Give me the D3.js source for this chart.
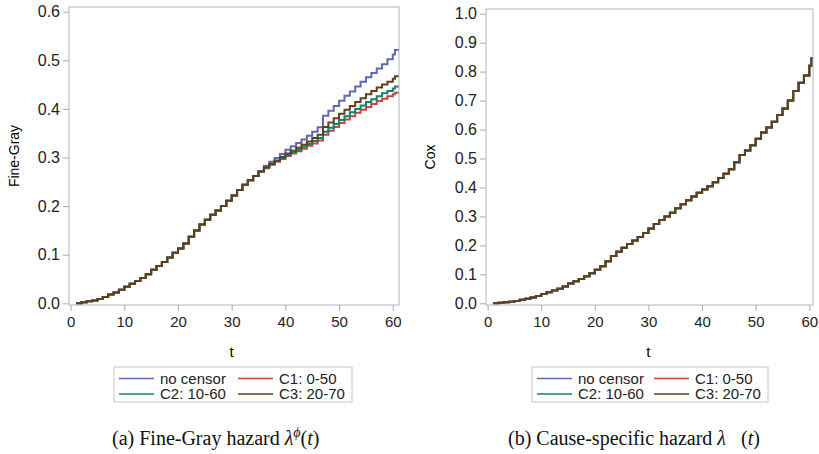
<!DOCTYPE html>
<html>
<head>
<meta charset="utf-8">
<script src="https://cdn.jsdelivr.net/npm/d3@7"></script>
<style>
  body { margin: 0; background: #fff; }
  svg { display: block; }
  .tick text { font-family: "Liberation Sans", Arial, sans-serif; font-size: 15px; fill: #222; }
</style>
</head>
<body>
<svg id="chart" width="819" height="454"></svg>
<script>
// step times (last step read slightly before t = 61)
const times = [1, 2, 3, 4, 5, 6, 7, 8, 9, 10, 11, 12, 13, 14, 15, 16, 17, 18, 19, 20,
  21, 22, 23, 24, 25, 26, 27, 28, 29, 30, 31, 32, 33, 34, 35, 36, 37, 38, 39, 40,
  41, 42, 43, 44, 45, 46, 47, 48, 49, 50, 51, 52, 53, 54, 55, 56, 57, 58, 59, 60, 60.4];

// Fine-Gray: common part, t = 1..35
const fgCommon = [0.000, 0.002, 0.004, 0.006, 0.009, 0.013, 0.018, 0.022, 0.028, 0.034,
  0.040, 0.046, 0.052, 0.060, 0.069, 0.077, 0.085, 0.094, 0.104, 0.113,
  0.123, 0.137, 0.150, 0.162, 0.172, 0.182, 0.191, 0.200, 0.211, 0.222,
  0.233, 0.244, 0.253, 0.262, 0.271];
// t = 36..61 per series
const fgNoCensor = [0.283, 0.291, 0.299, 0.307, 0.316, 0.323, 0.330, 0.337, 0.345, 0.353, 0.362,
  0.386, 0.396, 0.406, 0.417, 0.427, 0.436, 0.446, 0.456, 0.465, 0.474, 0.483, 0.492, 0.502, 0.512, 0.521];
const fgC1 = [0.278, 0.285, 0.291, 0.297, 0.303, 0.308, 0.313, 0.318, 0.324, 0.329, 0.335,
  0.347, 0.355, 0.363, 0.371, 0.378, 0.385, 0.392, 0.398, 0.404, 0.410, 0.416, 0.421, 0.426, 0.430, 0.433];
const fgC2 = [0.279, 0.286, 0.293, 0.299, 0.305, 0.311, 0.316, 0.322, 0.328, 0.334, 0.340,
  0.353, 0.361, 0.369, 0.377, 0.385, 0.393, 0.400, 0.407, 0.414, 0.420, 0.426, 0.432, 0.437, 0.442, 0.446];
const fgC3 = [0.280, 0.287, 0.294, 0.301, 0.308, 0.314, 0.320, 0.326, 0.333, 0.340, 0.347,
  0.363, 0.372, 0.381, 0.390, 0.398, 0.406, 0.414, 0.422, 0.430, 0.437, 0.444, 0.450, 0.456, 0.462, 0.467];

// Cause-specific (Cox): the four curves coincide
const coxValues = [0.000, 0.002, 0.004, 0.005, 0.008, 0.012, 0.016, 0.020, 0.025, 0.032,
  0.038, 0.044, 0.050, 0.058, 0.068, 0.076, 0.084, 0.093, 0.104, 0.116,
  0.128, 0.145, 0.163, 0.178, 0.192, 0.205, 0.217, 0.229, 0.243, 0.258,
  0.274, 0.288, 0.300, 0.313, 0.328, 0.342, 0.356, 0.369, 0.382, 0.393,
  0.404, 0.418, 0.433, 0.447, 0.463, 0.487, 0.512, 0.528, 0.546, 0.568,
  0.590, 0.607, 0.627, 0.650, 0.673, 0.700, 0.733, 0.762, 0.787, 0.820, 0.846];

const seriesNames = ["no censor", "C1: 0-50", "C2: 10-60", "C3: 20-70"];
const colors = ["#5d6ab2", "#c4463e", "#14806f", "#5f401e"];
const xTicks = [0, 10, 20, 30, 40, 50, 60];

const fgSeries = [fgNoCensor, fgC1, fgC2, fgC3].map(tail => fgCommon.concat(tail));
const coxSeries = [coxValues, coxValues, coxValues, coxValues];

const svg = d3.select("#chart");

function drawPanel(cfg) {
  const g = svg.append("g");
  const f = cfg.frame;
  const x = d3.scaleLinear().domain([0, 60]).range(cfg.xRange);
  const y = d3.scaleLinear().domain(cfg.yDomain).range(cfg.yRange);

  const clipId = "clip-" + cfg.id;
  svg.append("clipPath").attr("id", clipId)
    .append("rect").attr("x", f.left).attr("y", f.top)
    .attr("width", f.right - f.left).attr("height", f.bottom - f.top);

  const xAxis = g.append("g").attr("transform", `translate(0,${f.bottom})`)
    .call(d3.axisBottom(x).tickValues(xTicks).tickSize(6).tickPadding(5).tickFormat(d3.format("d")));
  const yAxis = g.append("g").attr("transform", `translate(${f.left},0)`)
    .call(d3.axisLeft(y).tickValues(cfg.yTicks).tickSize(6).tickPadding(3).tickFormat(d3.format(".1f")));
  [xAxis, yAxis].forEach(a => {
    a.select(".domain").remove();
    a.selectAll(".tick line").attr("stroke", "#aaa");
  });
  yAxis.selectAll(".tick text").style("font-size", "16px");

  // step line, held flat to the right edge of the frame
  const xEnd = x.invert(f.right);
  const line = d3.line()
    .x(d => x(d[0]))
    .y(d => y(d[1]))
    .curve(d3.curveStepAfter);
  const toPoints = vals => {
    const pts = vals.map((v, i) => [times[i], v]);
    pts.push([xEnd, vals[vals.length - 1]]);
    return pts;
  };

  g.append("g").attr("clip-path", `url(#${clipId})`)
    .selectAll("path").data(cfg.series).join("path")
    .attr("d", d => line(toPoints(d)))
    .attr("fill", "none")
    .attr("stroke", (d, i) => colors[i])
    .attr("stroke-width", 2);

  g.append("rect").attr("x", f.left).attr("y", f.top)
    .attr("width", f.right - f.left).attr("height", f.bottom - f.top)
    .attr("fill", "none").attr("stroke", "#b4b4b4").attr("stroke-width", 1);

  // axis titles
  g.append("text").attr("x", (x(0) + x(60)) / 2).attr("y", 357)
    .attr("text-anchor", "middle")
    .style("font-family", "Liberation Sans, Arial, sans-serif").style("font-size", "15px")
    .text("t");
  g.append("text")
    .attr("transform", `translate(${cfg.yTitleX},${(f.top + f.bottom) / 2}) rotate(-90)`)
    .attr("text-anchor", "middle")
    .style("font-family", "Liberation Sans, Arial, sans-serif").style("font-size", "14px")
    .text(cfg.yTitle);

  // legend
  const L = cfg.legend;
  g.append("rect").attr("x", L.x).attr("y", 367).attr("width", L.w).attr("height", 35)
    .attr("fill", "#fff").attr("stroke", "#c8c8c8");
  seriesNames.forEach((name, i) => {
    const col = i % 2, row = Math.floor(i / 2);
    const lx = L.x + 5 + col * L.colStep;
    const ly = 378.5 + row * 15.5;
    g.append("line").attr("x1", lx).attr("x2", lx + 35).attr("y1", ly).attr("y2", ly)
      .attr("stroke", colors[i]).attr("stroke-width", 1.6);
    g.append("text").attr("x", lx + 41).attr("y", ly + 5)
      .style("font-family", "Liberation Sans, Arial, sans-serif").style("font-size", "15px")
      .attr("fill", "#222").text(name);
  });

  // caption
  const cap = g.append("text").attr("x", cfg.captionX).attr("y", 445)
    .style("font-family", "Liberation Serif, Times New Roman, serif").style("font-size", "20px")
    .attr("fill", "#111");
  cfg.caption(cap);
}

drawPanel({
  id: "fg",
  frame: { left: 69, right: 399, top: 7, bottom: 305 },
  xRange: [70.6, 392.8],
  yDomain: [0, 0.6], yRange: [303.3, 11.7],
  yTicks: [0, 0.1, 0.2, 0.3, 0.4, 0.5, 0.6],
  series: fgSeries,
  yTitle: "Fine-Gray", yTitleX: 19,
  legend: { x: 114, w: 238, colStep: 119 },
  captionX: 112,
  caption: t => {
    t.append("tspan").text("(a) Fine-Gray hazard ");
    t.append("tspan").style("font-style", "italic").text("λ");
    t.append("tspan").style("font-style", "italic").style("font-size", "14px").attr("dy", -8).text("\u03D5");
    t.append("tspan").attr("dy", 8).text("(");
    t.append("tspan").style("font-style", "italic").text("t");
    t.append("tspan").text(")");
  }
});

drawPanel({
  id: "cox",
  frame: { left: 486, right: 813, top: 9, bottom: 305 },
  xRange: [487.6, 809.3],
  yDomain: [0, 1], yRange: [303.3, 13.7],
  yTicks: d3.range(0, 11).map(d => d / 10),
  series: coxSeries,
  yTitle: "Cox", yTitleX: 435,
  legend: { x: 532, w: 236, colStep: 117 },
  captionX: 508,
  caption: t => {
    t.append("tspan").text("(b) Cause-specific hazard ");
    t.append("tspan").style("font-style", "italic").text("λ");
    t.append("tspan").text("\u2002 (");
    t.append("tspan").style("font-style", "italic").text("t");
    t.append("tspan").text(")");
  }
});
</script>
</body>
</html>
